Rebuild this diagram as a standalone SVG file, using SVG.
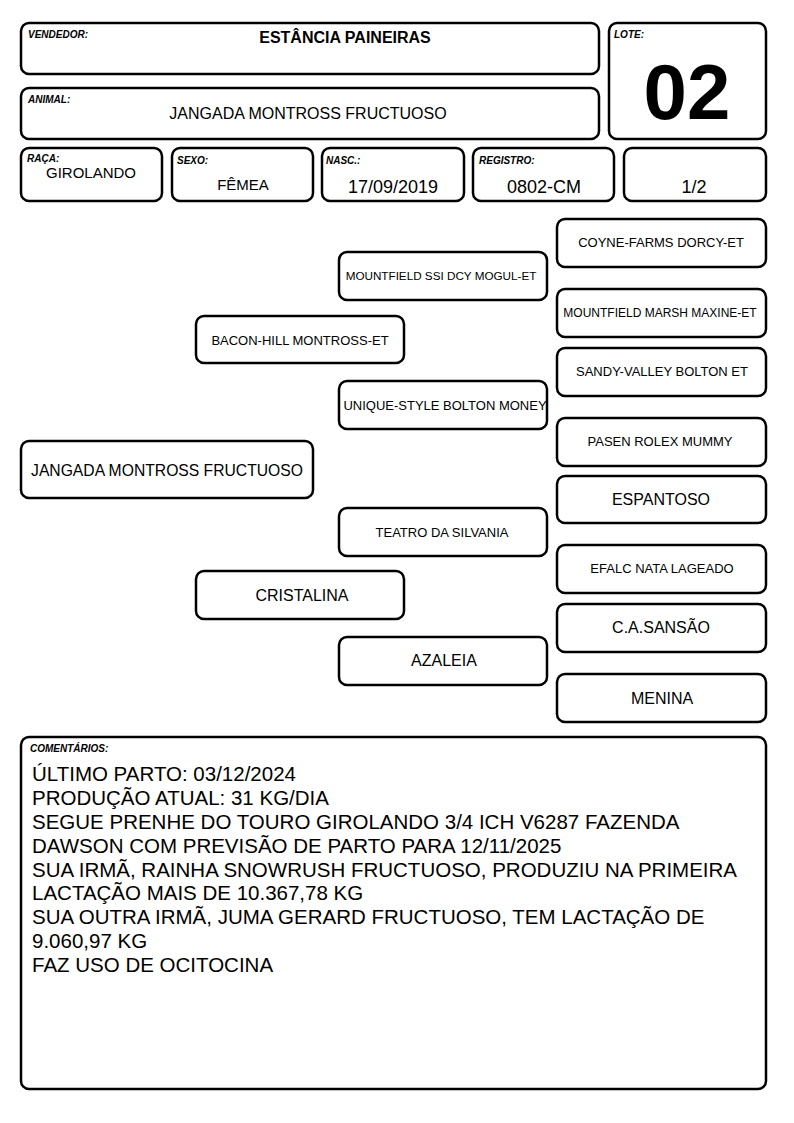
<svg xmlns="http://www.w3.org/2000/svg" width="794" height="1123" viewBox="0 0 794 1123">
<style>
rect.b{fill:#fff;stroke:#000;stroke-width:2.5}
text{font-family:"Liberation Sans",Arial,sans-serif;fill:#000}
.lbl{font-size:10px;font-weight:bold;font-style:italic}
.c{text-anchor:middle}
.s13{font-size:13px}
.s12{font-size:12px}
.s11{font-size:11.7px}
.s16{font-size:16px}
.com{font-size:20.5px}
</style>
<rect width="794" height="1123" fill="#fff"/>
<g id="vendedor"><rect class="b" x="21" y="23" width="578" height="51" rx="8"/><text class="lbl" x="28" y="38">VENDEDOR:</text><text x="345" y="43" class="c" font-size="16" font-weight="bold">ESTÂNCIA PAINEIRAS</text></g>
<g id="animal"><rect class="b" x="21" y="88" width="578" height="51" rx="8"/><text class="lbl" x="28" y="103">ANIMAL:</text><text x="308" y="119" class="c s16">JANGADA MONTROSS FRUCTUOSO</text></g>
<g id="lote"><rect class="b" x="609" y="23" width="157" height="116" rx="8"/><text class="lbl" x="614" y="38">LOTE:</text><text x="687" y="119" class="c" font-size="78" font-weight="bold">02</text></g>
<g id="raca"><rect class="b" x="21" y="148" width="141" height="53" rx="8"/><text class="lbl" x="27" y="162">RAÇA:</text><text x="91" y="178" class="c" font-size="15">GIROLANDO</text></g>
<g id="sexo"><rect class="b" x="172" y="148" width="141" height="53" rx="8"/><text class="lbl" x="177" y="164">SEXO:</text><text x="243" y="190" class="c" font-size="15">FÊMEA</text></g>
<g id="nasc"><rect class="b" x="322" y="148" width="142" height="53" rx="8"/><text class="lbl" x="326" y="164">NASC.:</text><text x="393" y="193" class="c" font-size="18">17/09/2019</text></g>
<g id="registro"><rect class="b" x="473" y="148" width="141" height="53" rx="8"/><text class="lbl" x="479" y="164">REGISTRO:</text><text x="544" y="193" class="c" font-size="18">0802-CM</text></g>
<g id="fracao"><rect class="b" x="624" y="148" width="142" height="53" rx="8"/><text x="694" y="193" class="c" font-size="18">1/2</text></g>

<g id="connectors"></g>

<g id="n-jangada"><rect class="b" x="21" y="441" width="292" height="57" rx="8"/><text x="167" y="476" class="c" font-size="15.7">JANGADA MONTROSS FRUCTUOSO</text></g>
<g id="n-baconhill"><rect class="b" x="196" y="316" width="208" height="47" rx="8"/><text x="300" y="345" class="c s13">BACON-HILL MONTROSS-ET</text></g>
<g id="n-cristalina"><rect class="b" x="196" y="571" width="208" height="48" rx="8"/><text x="302" y="601" class="c s16">CRISTALINA</text></g>
<g id="n-mountfield-ssi"><rect class="b" x="339" y="252" width="208" height="48" rx="8"/><text x="441" y="280" class="c s11">MOUNTFIELD SSI DCY MOGUL-ET</text></g>
<g id="n-unique"><rect class="b" x="339" y="381" width="208" height="48" rx="8"/><text x="445" y="410" class="c s13">UNIQUE-STYLE BOLTON MONEY</text></g>
<g id="n-teatro"><rect class="b" x="339" y="508" width="208" height="48" rx="8"/><text x="442" y="537" class="c s13">TEATRO DA SILVANIA</text></g>
<g id="n-azaleia"><rect class="b" x="339" y="637" width="208" height="48" rx="8"/><text x="444" y="666" class="c s16">AZALEIA</text></g>
<g id="n-coyne"><rect class="b" x="557" y="219" width="209" height="48" rx="8"/><text x="661" y="247" class="c s13">COYNE-FARMS DORCY-ET</text></g>
<g id="n-maxine"><rect class="b" x="557" y="289" width="209" height="48" rx="8"/><text x="660" y="317" class="c s12">MOUNTFIELD MARSH MAXINE-ET</text></g>
<g id="n-sandy"><rect class="b" x="557" y="348" width="209" height="48" rx="8"/><text x="662" y="376" class="c s13">SANDY-VALLEY BOLTON ET</text></g>
<g id="n-pasen"><rect class="b" x="557" y="418" width="209" height="48" rx="8"/><text x="660" y="446" class="c s13">PASEN ROLEX MUMMY</text></g>
<g id="n-espantoso"><rect class="b" x="557" y="476" width="209" height="47" rx="8"/><text x="661" y="505" class="c s16">ESPANTOSO</text></g>
<g id="n-efalc"><rect class="b" x="557" y="545" width="209" height="48" rx="8"/><text x="662" y="573" class="c s13">EFALC NATA LAGEADO</text></g>
<g id="n-sansao"><rect class="b" x="557" y="604" width="209" height="48" rx="8"/><text x="661" y="633" class="c s16">C.A.SANSÃO</text></g>
<g id="n-menina"><rect class="b" x="557" y="674" width="209" height="48" rx="8"/><text x="662" y="704" class="c s16">MENINA</text></g>

<g id="comentarios"><rect class="b" x="21" y="737" width="745" height="352" rx="8"/><text class="lbl" x="30" y="752">COMENTÁRIOS:</text>
<text class="com" x="32" y="781">ÚLTIMO PARTO: 03/12/2024</text>
<text class="com" x="32" y="805">PRODUÇÃO ATUAL: 31 KG/DIA</text>
<text class="com" x="32" y="829">SEGUE PRENHE DO TOURO GIROLANDO 3/4 ICH V6287 FAZENDA</text>
<text class="com" x="32" y="853">DAWSON COM PREVISÃO DE PARTO PARA 12/11/2025</text>
<text class="com" x="32" y="877">SUA IRMÃ, RAINHA SNOWRUSH FRUCTUOSO, PRODUZIU NA PRIMEIRA</text>
<text class="com" x="32" y="900">LACTAÇÃO MAIS DE 10.367,78 KG</text>
<text class="com" x="32" y="924">SUA OUTRA IRMÃ, JUMA GERARD FRUCTUOSO, TEM LACTAÇÃO DE</text>
<text class="com" x="32" y="948">9.060,97 KG</text>
<text class="com" x="32" y="972">FAZ USO DE OCITOCINA</text>
</g>
</svg>
